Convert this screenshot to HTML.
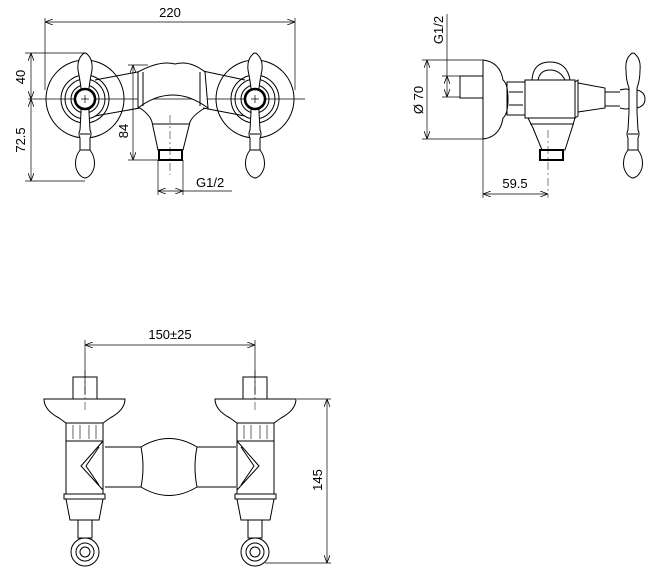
<!DOCTYPE html>
<html><head><style>
html,body{margin:0;padding:0;background:#fff;}
svg{display:block;}
text{font-family:"Liberation Sans",sans-serif;font-size:13px;fill:#000;}
</style></head><body>
<svg width="655" height="579" viewBox="0 0 655 579" xmlns="http://www.w3.org/2000/svg">
<defs>
<marker id="a" markerWidth="8" markerHeight="6" refX="8" refY="3" orient="auto-start-reverse" markerUnits="userSpaceOnUse"><path d="M0,0 L8,3 L0,6" fill="none" stroke="#000" stroke-width="0.8"/></marker>
</defs>
<g fill="none" stroke="#000" stroke-width="1">
<line x1="45" y1="18" x2="45" y2="90" stroke-width="0.7"/>
<line x1="295" y1="18" x2="295" y2="90" stroke-width="0.7"/>
<line x1="45" y1="22" x2="295" y2="22" stroke-width="0.7" marker-start="url(#a)" marker-end="url(#a)"/>
<line x1="25" y1="53" x2="85" y2="53" stroke-width="0.7"/>
<line x1="25" y1="181" x2="85" y2="181" stroke-width="0.7"/>
<line x1="31" y1="53" x2="31" y2="99" stroke-width="0.7" marker-start="url(#a)" marker-end="url(#a)"/>
<line x1="31" y1="99" x2="31" y2="181" stroke-width="0.7" marker-start="url(#a)" marker-end="url(#a)"/>
<line x1="28" y1="99" x2="305" y2="99" stroke-width="0.7"/>
<line x1="128" y1="65" x2="148" y2="65" stroke-width="0.7"/>
<line x1="128" y1="160" x2="158" y2="160" stroke-width="0.7"/>
<line x1="133" y1="65" x2="133" y2="160" stroke-width="0.7" marker-start="url(#a)" marker-end="url(#a)"/>
<line x1="158" y1="160" x2="158" y2="195" stroke-width="0.7"/>
<line x1="183" y1="160" x2="183" y2="195" stroke-width="0.7"/>
<line x1="158" y1="191" x2="183" y2="191" stroke-width="0.7" marker-start="url(#a)" marker-end="url(#a)"/>
<line x1="183" y1="191" x2="232" y2="191" stroke-width="0.7"/>
<circle cx="85" cy="99" r="39"/>
<circle cx="85" cy="99" r="24"/><circle cx="85" cy="99" r="20"/><circle cx="85" cy="99" r="14"/>
<circle cx="85" cy="99" r="10" stroke-width="2.5"/>
<circle cx="255" cy="99" r="39"/>
<circle cx="255" cy="99" r="24"/><circle cx="255" cy="99" r="20"/><circle cx="255" cy="99" r="14"/>
<circle cx="255" cy="99" r="10" stroke-width="2.5"/>
<path d="M95,80 L148,70 M95,116 L140,108 M245,80 L198,70 M245,116 L203,108" fill="none"/>
<path d="M138,72 Q160,60 175,64 Q190,60 205,72 L208,108 Q190,95 173,95 Q155,95 138,108 Z" fill="#fff"/>
<path d="M143,72 L143,106 M200,72 L200,106"/>
<path d="M140,108 Q150,115 152,122 L158,150 L183,150 L190,122 Q193,115 205,108"/>
<line x1="152" y1="124" x2="190" y2="124"/>
<rect x="159" y="150" width="23" height="10" stroke-width="2"/>
<g id="h">
<path d="M82,55 Q85,51 88,55 Q93,60 92,70 Q90,80 89,88 L89,112 L90,130 Q92,134 90,138 L90,150 Q96,158 94,168 Q91,177 85,178 Q79,177 76,168 Q74,158 80,150 L80,138 Q78,134 80,130 L81,112 L81,88 Q80,80 78,70 Q77,60 82,55 Z" fill="#fff"/>
<line x1="80" y1="134" x2="90" y2="134"/><line x1="80" y1="150" x2="90" y2="150"/>
<circle cx="85" cy="99" r="10" stroke-width="2.5" fill="#fff"/>
<path d="M81,99 H89 M85,95 V103" stroke-width="0.7"/>
</g>
<use href="#h" x="170"/>
<line x1="170" y1="115" x2="170" y2="175" stroke-width="0.5" stroke-dasharray="8,3,2,3"/>
<line x1="447" y1="14" x2="447" y2="76" stroke-width="0.7"/>
<line x1="442" y1="76" x2="460" y2="76" stroke-width="0.7"/>
<line x1="442" y1="97" x2="460" y2="97" stroke-width="0.7"/>
<line x1="447" y1="76" x2="447" y2="97" stroke-width="0.7" marker-start="url(#a)" marker-end="url(#a)"/>
<line x1="422" y1="60" x2="483" y2="60" stroke-width="0.7"/>
<line x1="422" y1="139" x2="483" y2="139" stroke-width="0.7"/>
<line x1="427" y1="60" x2="427" y2="139" stroke-width="0.7" marker-start="url(#a)" marker-end="url(#a)"/>
<line x1="483" y1="139" x2="483" y2="198" stroke-width="0.7"/>
<line x1="548" y1="130" x2="548" y2="198" stroke-width="0.5" stroke-dasharray="8,3,2,3"/>
<line x1="483" y1="194" x2="548" y2="194" stroke-width="0.7" marker-start="url(#a)" marker-end="url(#a)"/>
<rect x="460" y="76" width="23" height="22"/>
<path d="M483,60 Q500,62 503,80 Q508,84 508,99 Q508,114 503,118 Q500,137 483,139 Z"/>
<rect x="507" y="82" width="18" height="33"/>
<line x1="509" y1="92" x2="523" y2="92"/><line x1="509" y1="105" x2="523" y2="105"/>
<path d="M532,80 Q533,62 550,62 Q567,62 570,80"/>
<path d="M538,80 Q540,70 550,70 Q560,70 565,80"/>
<rect x="525" y="80" width="50" height="38"/>
<path d="M575,82 L578,80 L578,116 L575,118 M578,83 L605,88 L605,108 L578,112 M605,92 L620,92 M605,106 L620,106"/>
<path d="M528,118 L575,118 L572,128 L565,150 L542,150 L533,128 Z"/>
<line x1="530" y1="124" x2="574" y2="124"/>
<rect x="540" y="150" width="23" height="10" stroke-width="2"/>
<path d="M630,55 Q633,51 636,55 Q641,60 640,70 Q640,80 637,88 L637,112 L638,130 Q640,134 638,138 L638,150 Q644,158 642,168 Q639,177 633,178 Q627,177 624,168 Q622,158 628,150 L628,138 Q626,134 628,130 L629,112 L629,88 Q626,80 626,70 Q625,60 630,55 Z" fill="#fff"/>
<path d="M620,90 Q628,88 629,90 M620,108 Q628,110 629,108 M637,90 Q645,92 645,99 Q645,106 637,108"/>
<line x1="628" y1="134" x2="638" y2="134"/><line x1="628" y1="150" x2="638" y2="150"/>
<line x1="85" y1="340" x2="85" y2="395" stroke-width="0.7"/>
<line x1="255" y1="340" x2="255" y2="395" stroke-width="0.7"/>
<line x1="85" y1="345" x2="255" y2="345" stroke-width="0.7" marker-start="url(#a)" marker-end="url(#a)"/>
<line x1="297" y1="399" x2="331" y2="399" stroke-width="0.7"/>
<line x1="265" y1="563" x2="331" y2="563" stroke-width="0.7"/>
<line x1="327" y1="399" x2="327" y2="563" stroke-width="0.7" marker-start="url(#a)" marker-end="url(#a)"/>
<path d="M105,447 L141,447 Q169,430 197,447 L236,447 M105,487 L141,487 Q169,504 197,487 L236,487"/>
<path d="M141,447 Q145,467 141,487 M197,447 Q193,467 197,487"/>
<g id="b">
<rect x="73" y="377" width="24" height="22"/>
<path d="M44,399 L125,399 Q125,410 110,418 L103,423 L66,423 L59,418 Q44,410 44,399 Z"/>
<rect x="66" y="423" width="37" height="18"/>
<path d="M73,425 V439 M96,425 V439 M80,425 V439 M89,425 V439" stroke-width="0.6"/>
<path d="M66,441 L66,494 M103,441 L103,494 M103,441 L81,466 L103,490 M99,447 L86,466 L99,485"/>
<path d="M64,494 L105,494 L105,499 L64,499 Z M66,499 L70,520 L99,520 L103,499"/>
<rect x="78" y="520" width="14" height="18"/>
<circle cx="85" cy="552" r="14"/><circle cx="85" cy="552" r="9"/><circle cx="85" cy="552" r="5"/>
<line x1="85" y1="370" x2="85" y2="410" stroke-width="0.5" stroke-dasharray="8,3,2,3"/>
</g>
<g transform="translate(340,0) scale(-1,1)"><use href="#b"/></g>
</g>
<text x="170" y="17" text-anchor="middle">220</text>
<text transform="translate(25,77) rotate(-90)" text-anchor="middle">40</text>
<text transform="translate(25,140) rotate(-90)" text-anchor="middle">72.5</text>
<text transform="translate(128,131) rotate(-90)" text-anchor="middle">84</text>
<text x="196" y="187">G1/2</text>
<text transform="translate(443,30) rotate(-90)" text-anchor="middle">G1/2</text>
<text transform="translate(423,100) rotate(-90)" text-anchor="middle">Ø 70</text>
<text x="515" y="188" text-anchor="middle">59.5</text>
<text x="170" y="339" text-anchor="middle">150±25</text>
<text transform="translate(322,480) rotate(-90)" text-anchor="middle">145</text>
</svg>
</body></html>
